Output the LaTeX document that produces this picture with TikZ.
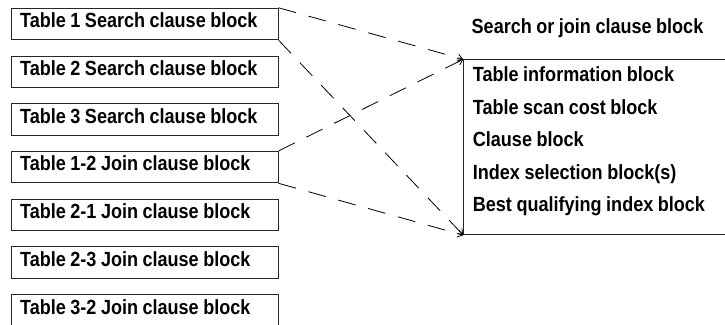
\documentclass[tikz,border=0pt]{standalone}
\usepackage{fontspec}
\setmainfont{Liberation Sans}[FakeStretch=0.88,WordSpace=0.9]
\usetikzlibrary{arrows.meta}
\newcommand\clausetext[1]{\makebox[249pt][l]{#1}}
\begin{document}
\begin{tikzpicture}[x=1pt,y=-1pt,
  blockfont/.style={font=\fontsize{20.5}{22}\selectfont\bfseries},
  clause/.style={blockfont,
    draw=black!85, line width=0.9pt, rectangle, anchor=north west,
    minimum width=267pt, minimum height=31.5pt,
    inner xsep=9pt, inner ysep=0pt,
    text height=14pt, text depth=6.4pt},
  label/.style={blockfont, anchor=base west, inner sep=0pt},
  infobox/.style={draw=black!85, line width=0.9pt, rectangle, anchor=north west,
    minimum width=300pt, minimum height=175pt, inner sep=0pt},
  link/.style={line width=0.8pt, dash pattern=on 18pt off 13pt,
    -{Straight Barb[length=5pt,width=7pt]}}
]
\useasboundingbox (0,0) rectangle (725,324);
\clip (0,0) rectangle (725,324);

% clause blocks, one per table and per join
\node[clause] (s1) at (10.7,7.8)   {\clausetext{Table 1 Search clause block}};
\node[clause] (s2) at (10.7,55.5)  {\clausetext{Table 2 Search clause block}};
\node[clause] (s3) at (10.7,103.2) {\clausetext{Table 3 Search clause block}};
\node[clause] (j12) at (10.7,150.9) {\clausetext{Table 1-2 Join clause block}};
\node[clause] (j21) at (10.7,198.6) {\clausetext{Table 2-1 Join clause block}};
\node[clause] (j23) at (10.7,246.3) {\clausetext{Table 2-3 Join clause block}};
\node[clause] (j32) at (10.7,294.0) {\clausetext{Table 3-2 Join clause block}};

% structure of a search or join clause block
\node[label] (title) at (471.5,33) {Search or join clause block};
\node[infobox] (info) at (463.3,59.3) {};
\node[label] (l1) at (472.7,81.7)  {Table information block};
\node[label] (l2) at (472.7,114.2) {Table scan cost block};
\node[label] (l3) at (472.7,146.7) {Clause block};
\node[label] (l4) at (472.7,179.2) {Index selection block(s)};
\node[label] (l5) at (472.7,211.7) {Best qualifying index block};

% connectors
\draw[link] (s1.north east) -- (info.north west);
\draw[link] (s1.south east) -- (info.south west);
\draw[link] (j12.north east) -- (info.north west);
\draw[link] (j12.south east) -- (info.south west);
\end{tikzpicture}
\end{document}
